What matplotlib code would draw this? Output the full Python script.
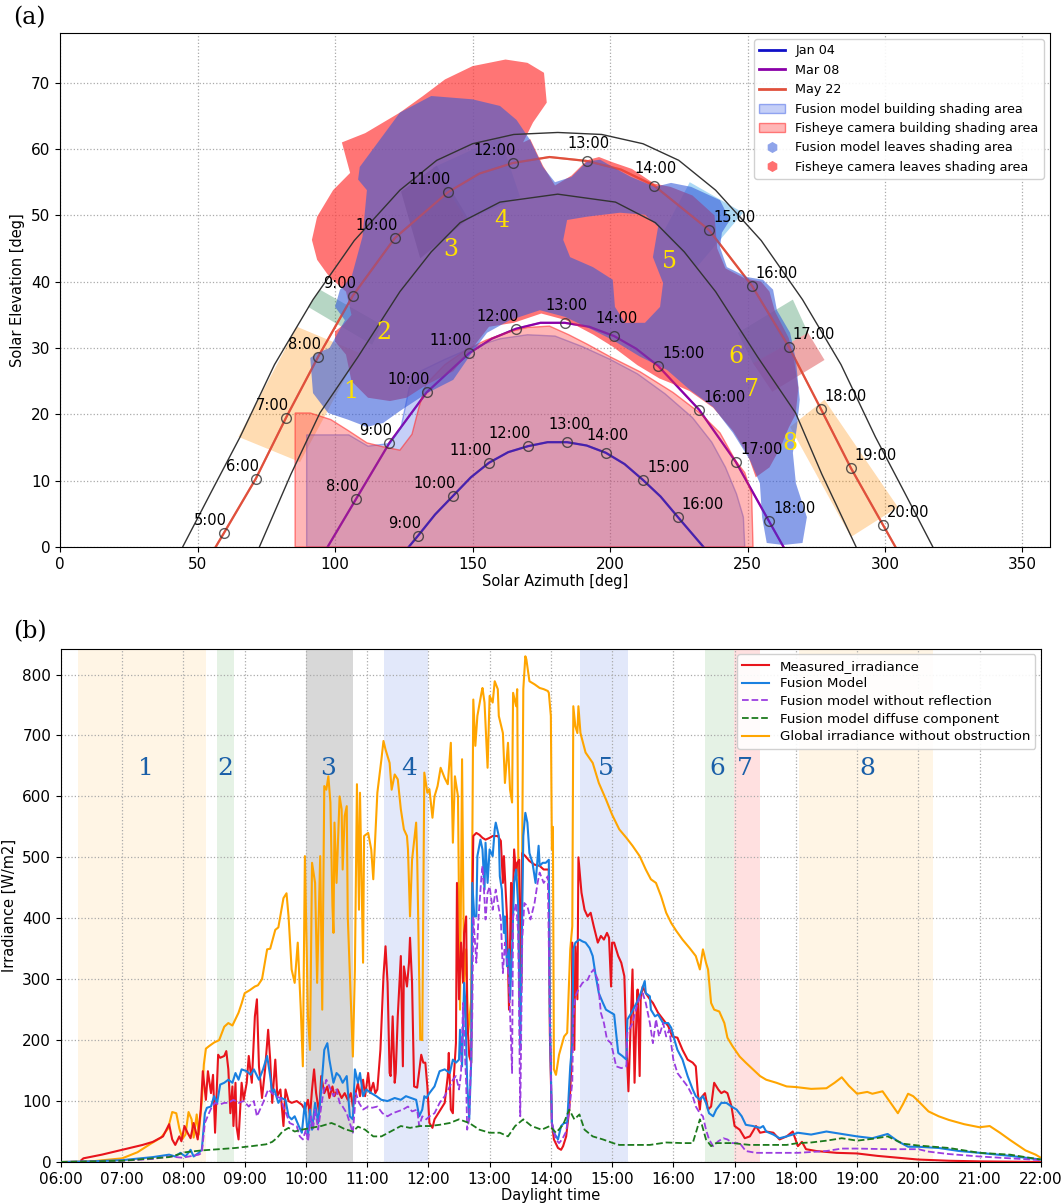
import matplotlib
matplotlib.use("Agg")
import matplotlib.pyplot as plt
from matplotlib.patches import Polygon, PathPatch, Patch
from matplotlib.path import Path
from matplotlib.lines import Line2D

# ---------------- panel (a): sun paths ----------------
jan_hours = [9, 10, 11, 12, 13, 14, 15, 16]
jan_az = [130.2, 142.9, 156.0, 170.2, 184.4, 198.5, 212.0, 224.7]
jan_el = [1.7, 7.7, 12.7, 15.2, 15.8, 14.2, 10.1, 4.5]
jan_path_az = [126.8, 130.2, 136.4, 142.9, 149.4, 156.0, 163.0, 170.2, 177.3, 184.4, 191.5, 198.5, 205.3, 212.0, 218.4, 224.7, 234.0]
jan_path_el = [0.0, 1.7, 4.9, 7.7, 10.5, 12.7, 14.3, 15.2, 15.8, 15.8, 15.3, 14.2, 12.5, 10.1, 7.6, 4.5, 0.0]

mar_hours = [8, 9, 10, 11, 12, 13, 14, 15, 16, 17, 18]
mar_az = [107.6, 119.8, 133.3, 148.7, 165.8, 183.6, 201.5, 217.5, 232.4, 245.8, 257.8]
mar_el = [7.2, 15.7, 23.3, 29.2, 32.9, 33.8, 31.8, 27.3, 20.7, 12.8, 3.9]
mar_path_az = [97.3, 107.6, 119.8, 133.3, 148.7, 157.0, 165.8, 174.7, 183.6, 192.5, 201.5, 209.5, 217.5, 232.4, 245.8, 257.8, 263.1]
mar_path_el = [0.0, 7.2, 15.7, 23.3, 29.2, 31.4, 32.9, 33.8, 33.8, 33.2, 31.8, 29.9, 27.3, 20.7, 12.8, 3.9, 0.0]

may_hours = [5, 6, 7, 8, 9, 10, 11, 12, 13, 14, 15, 16, 17, 18, 19, 20]
may_az = [59.6, 71.2, 82.2, 93.9, 106.5, 121.8, 141.1, 164.7, 191.6, 216.0, 236.0, 251.6, 265.0, 276.7, 287.6, 299.3]
may_el = [2.1, 10.3, 19.5, 28.7, 37.9, 46.6, 53.5, 57.9, 58.2, 54.5, 47.8, 39.4, 30.2, 20.8, 11.9, 3.3]
may_path_az = [56.6, 59.6, 71.2, 82.2, 93.9, 106.5, 121.8, 141.1, 152.5, 164.7, 178.0, 191.6, 204.0, 216.0, 236.0, 251.6, 265.0, 276.7, 287.6, 299.3, 303.8]
may_path_el = [0.0, 2.1, 10.3, 19.5, 28.7, 37.9, 46.6, 53.5, 56.3, 57.9, 58.8, 58.2, 56.9, 54.5, 47.8, 39.4, 30.2, 20.8, 11.9, 3.3, 0.0]

# boundary arcs of the evaluated sky band
outer_az = [44.6, 55, 65.5, 78, 92, 107, 123.6, 137, 150, 165, 181, 197, 212, 225, 238.4, 255, 270, 284, 296.5, 307, 317.4]
outer_el = [0, 8.3, 16.6, 27.5, 37.3, 46.2, 53.8, 58.3, 60.8, 62.2, 62.5, 62.2, 60.8, 58.3, 53.8, 46.2, 37.3, 27.5, 16.6, 8.3, 0]
inner_az = [72.5, 84, 94.5, 108.4, 123.6, 135, 145.5, 160, 181, 202, 216.5, 227, 238.4, 253.6, 267.5, 277, 289.5]
inner_el = [0, 11, 20.2, 28.7, 38.5, 44.5, 48.9, 52, 53.2, 52, 48.9, 44.5, 38.5, 28.7, 20.2, 11, 0]

# shading areas (azimuth, elevation)
fisheye_building = [(85.5, 0), (85.5, 20.2), (91, 20.2), (98.5, 19.2), (105, 17.5), (111.6, 15.7), (117.5, 15.1),
                    (123.6, 14.6), (128, 17), (130.5, 21), (133, 24.5), (140, 27.5), (148, 29.8), (155, 31.2),
                    (163, 32.4), (170, 33.1), (178, 33.3), (185, 32.0), (191.6, 30.6), (200.4, 28.6), (211, 26.4),
                    (222.9, 23.3), (232.7, 20.2), (240, 17.2), (245.5, 13.1), (249, 11.2), (251.5, 8), (252, 0)]
fusion_building = [(89.7, 0), (89.7, 16.9), (105, 16.9), (112, 15.2), (120, 15.6), (124, 18), (127, 24), (131, 26.5),
                   (140, 28.3), (150, 30.1), (160, 31.4), (170, 32.0), (180, 31.8), (190, 30.2), (200, 28.3),
                   (210, 26.1), (220, 23.1), (230, 19.5), (237, 15.8), (242, 12), (246, 8), (248.5, 4.5), (249, 0)]
fusion_leaves = [(91, 28.5), (92, 23.2), (97.5, 20.2), (104.7, 19.2), (111.6, 18.1), (117.5, 18.7), (123.6, 20.5),
                 (133.5, 23.2), (143, 25.2), (149.8, 29.3), (155.3, 32.3), (163.6, 34.2), (174.5, 35.7), (183.6, 34.7),
                 (193.8, 32.7), (201, 31.2), (210.9, 28.7), (220.7, 26.7), (229, 23.7), (237.5, 21.1), (244.7, 17.2),
                 (250.9, 13.1), (254.5, 9.6), (255.3, 4.5), (257, 0.6), (263, 0.3), (270, 0.6), (271.6, 4.5),
                 (267.6, 9.6), (266.5, 14.2), (268, 18.1), (269, 22.2), (267.6, 28.2), (265.5, 32.3), (260.7, 35.7),
                 (259.3, 38.8), (255.6, 40.3), (249.8, 40.7), (242.5, 42.2), (240, 45.2), (240.7, 47.4), (243.6, 49.3),
                 (240, 52.3), (229.5, 54.3), (222.2, 54.9), (216.4, 54.3), (207.6, 55.8), (201, 57.3), (196.4, 58.4),
                 (191.6, 58.1), (186, 55.8), (180, 55), (175.6, 57.3), (170.9, 61.4), (166, 64.4), (160, 66.5),
                 (150, 67.5), (135, 68), (123.6, 65.5), (109, 57.3), (108.4, 55.4), (111.6, 53.8), (110, 46.8),
                 (106, 40.7), (101.8, 38.8), (100, 36.2), (103.6, 34.2), (98, 30), (93.8, 29.3)]
fusion_leaves_gap = [(184.4, 49.3), (191.6, 49.8), (203.6, 50.4), (212.7, 50.1), (217.5, 48.3), (215.6, 43.7),
                     (219.3, 39.8), (218.2, 36.2), (212.7, 33.8), (205.5, 33.8), (201.8, 36.2), (201, 40.3),
                     (193.8, 42.2), (185.5, 43.7), (183, 46.3)]
fisheye_leaves = [(100, 31), (104, 29), (106, 25), (112, 22.5), (120, 22), (126, 22.5), (133.5, 24.5), (143, 26.5),
                  (150, 30), (156, 33.2), (165, 33.8), (175, 35.2), (184, 34.2), (194, 32), (201, 30.2), (210, 27.4),
                  (218, 25.4), (224, 24.4), (229, 23.5), (237.5, 21), (244.7, 17.5), (250, 14), (253, 10.5),
                  (258, 12), (262, 15), (265, 18), (267.5, 20), (268.5, 24), (267, 28), (265, 31.5), (260, 35.5),
                  (258, 38.5), (255, 40), (249, 40.5), (242, 42), (239, 45), (238, 50), (230, 53), (222, 54.3),
                  (216, 54.8), (208, 57), (201, 58), (196, 58.8), (191.6, 58.3), (186, 56), (180, 54.5),
                  (175.6, 57.5), (171, 61.5), (168.4, 61), (172, 64), (177, 67), (176, 71.5), (170, 73),
                  (162, 73.5), (150, 72.5), (140, 70.5), (132, 68), (123.6, 65.5), (111, 62.4), (102.5, 61),
                  (105.5, 56.4), (99.3, 53.8), (93.5, 49.8), (91.6, 46.3), (93.5, 43.3), (98, 40.7), (104, 38.5),
                  (106, 35), (103, 33.5), (100, 32.5)]

# numbered sky sections (corner points) and their labels
sections_a = [
    ([(64.9, 16.6), (86.2, 33.2), (108.7, 29.3), (87.3, 12.8)], "darkorange", 0.3),
    ([(90.2, 36.2), (94.5, 38.8), (117.0, 33.5), (113.5, 30.5)], "seagreen", 0.35),
    ([(124.0, 53.6), (137.0, 57.5), (148.5, 49.5), (131.0, 43.5)], "black", 0.4),
    ([(135.6, 57.2), (160.0, 61.8), (167.3, 52.8), (148.0, 49.3)], "#5ab4ec", 0.5),
    ([(229.0, 55.0), (248.4, 50.4), (231.6, 42.2), (219.3, 47.4)], "#5ab4ec", 0.5),
    ([(266.5, 37.3), (272.0, 32.3), (252.0, 27.7), (246.5, 32.3)], "seagreen", 0.35),
    ([(272.0, 32.3), (278.0, 28.2), (259.0, 23.4), (252.0, 27.7)], "tab:red", 0.4),
    ([(278.0, 22.2), (304.7, 6.0), (287.6, 1.5), (265.5, 18.1)], "darkorange", 0.3),
]
labels_a_az = [105.8, 117.8, 142.2, 160.7, 221.8, 245.8, 251.6, 265.5]
labels_a_el = [23.4, 32.3, 44.8, 49.3, 43.0, 28.7, 23.7, 15.6]

# ---------------- panel (b): irradiance ----------------
global_irr = [("06:00",0),("06:30",1),("07:00",6),("07:15",16),("07:28",30),("07:38",40),("07:45",55),("07:49",82),("07:53",80),("07:56",55),("07:59",38),("08:02",45),("08:05",82),("08:08",70),("08:10",40),("08:13",78),("08:15",45),("08:18",100),("08:20",160),("08:22",186),("08:25",190),("08:30",196),("08:35",200),("08:40",222),("08:44",228),("08:48",224),("08:52",238),("08:54",245),("08:57",260),("09:00",277),("09:05",282),("09:10",288),("09:13",290),("09:17",300),("09:20",330),("09:22",349),("09:25",350),("09:30",381),("09:33",385),("09:38",433),("09:41",441),("09:43",403),("09:46",316),("09:49",294),("09:52",360),("09:55",250),("09:57",157),("09:59",502),("10:02",239),("10:04",184),("10:06",491),("10:09",458),("10:11",294),("10:14",502),("10:16",250),("10:18",617),("10:20",611),("10:22",633),("10:24",590),("10:26",420),("10:27",376),("10:28",557),("10:30",458),("10:33",600),("10:35",579),("10:36",480),("10:38",568),("10:40",584),("10:41",403),("10:44",267),("10:46",173),("10:48",316),("10:50",620),("10:52",414),("10:53",606),("10:56",327),("10:57",535),("11:01",540),("11:04",513),("11:06",464),("11:08",535),("11:10",606),("11:14",661),("11:16",691),("11:18",677),("11:22",655),("11:24",611),("11:27",636),("11:30",628),("11:33",579),("11:36",546),("11:39",535),("11:40",513),("11:42",403),("11:44",496),("11:48",557),("11:49",502),("11:52",201),("11:54",200),("11:56",639),("11:59",606),("12:01",612),("12:04",565),("12:06",600),("12:09",617),("12:12",647),("12:16",630),("12:19",620),("12:22",688),("12:24",524),("12:26",633),("12:29",600),("12:31",250),("12:33",661),("12:35",294),("12:37",349),("12:39",212),("12:42",267),("12:44",759),("12:46",683),("12:48",732),("12:52",770),("12:53",778),("12:55",754),("12:58",647),("13:00",765),("13:03",754),("13:05",789),("13:08",776),("13:09",732),("13:13",704),("13:15",622),("13:18",688),("13:20",611),("13:22",590),("13:23",770),("13:26",748),("13:27",776),("13:29",267),("13:31",294),("13:33",776),("13:35",830),("13:36",825),("13:39",789),("13:44",784),("13:49",778),("13:53",776),("13:57",773),("13:58",770),("14:00",732),("14:01",513),("14:02",550),("14:03",152),("14:05",143),("14:08",176),("14:13",206),("14:16",212),("14:19",349),("14:21",387),("14:22",748),("14:24",715),("14:26",704),("14:27",748),("14:29",704),("14:34",672),("14:41",655),("14:47",622),("14:54",595),("15:00",570),("15:07",546),("15:14",532),("15:20",519),("15:27",502),("15:33",480),("15:38",464),("15:43",458),("15:48",436),("15:53",409),("15:58",392),("16:03",379),("16:09",365),("16:16",351),("16:22",338),("16:26",316),("16:29",349),("16:32",327),("16:34",316),("16:37",261),("16:40",250),("16:45",247),("16:50",228),("16:53",204),("16:58",190),("17:05",173),("17:11",163),("17:18",152),("17:25",141),("17:31",135),("17:41",130),("17:51",124),("18:00",123),("18:15",120),("18:30",121),("18:38",130),("18:45",139),("18:52",125),("19:00",112),("19:10",115),("19:15",112),("19:25",116),("19:30",104),("19:40",80),("19:45",95),("19:50",112),("19:55",108),("20:00",100),("20:10",83),("20:20",75),("20:30",69),("20:45",62),("21:00",57),("21:10",59),("21:20",48),("21:30",36),("21:45",19),("21:55",12),("22:00",7)]

measured = [("06:20",3),("06:22",6),("06:40",12),("07:00",20),("07:10",24),("07:20",28),("07:30",33),("07:40",42),("07:46",62),("07:49",37),("07:52",28),("07:56",42),("07:58",34),("08:01",59),("08:04",48),("08:07",39),("08:10",64),("08:14",37),("08:17",86),("08:19",149),("08:22",102),("08:24",149),("08:27",113),("08:29",143),("08:31",48),("08:34",176),("08:36",171),("08:40",174),("08:42",182),("08:44",152),("08:46",80),("08:48",124),("08:49",59),("08:51",130),("08:52",59),("08:54",37),("08:57",130),("08:59",102),("09:02",130),("09:04",174),("09:07",130),("09:10",239),("09:12",267),("09:14",157),("09:17",105),("09:20",152),("09:23",217),("09:25",168),("09:27",97),("09:30",168),("09:32",108),("09:35",119),("09:38",59),("09:40",119),("09:43",100),("09:46",97),("09:51",100),("09:56",94),("09:59",86),("10:02",102),("10:04",75),("10:06",119),("10:08",152),("10:10",113),("10:13",80),("10:15",141),("10:18",113),("10:21",124),("10:23",105),("10:26",124),("10:28",108),("10:31",119),("10:35",105),("10:38",113),("10:41",102),("10:44",113),("10:46",91),("10:48",108),("10:51",130),("10:53",108),("10:56",135),("10:58",108),("11:01",146),("11:03",113),("11:06",130),("11:08",113),("11:10",119),("11:13",184),("11:15",267),("11:16",305),("11:18",354),("11:20",294),("11:22",146),("11:23",141),("11:25",239),("11:27",130),("11:28",146),("11:30",239),("11:33",338),("11:35",157),("11:36",321),("11:39",288),("11:41",327),("11:42",368),("11:44",294),("11:46",124),("11:49",122),("11:53",176),("11:55",163),("11:57",163),("11:59",124),("12:01",64),("12:04",56),("12:06",70),("12:09",78),("12:12",86),("12:16",97),("12:19",141),("12:20",179),("12:22",86),("12:24",80),("12:25",141),("12:27",195),("12:28",458),("12:30",267),("12:32",360),("12:34",294),("12:35",376),("12:37",403),("12:38",239),("12:40",174),("12:42",163),("12:43",403),("12:44",535),("12:47",540),("12:50",537),("12:53",532),("12:56",529),("13:00",532),("13:03",535),("13:08",535),("13:11",527),("13:13",458),("13:14",502),("13:17",403),("13:19",250),("13:21",458),("13:22",365),("13:24",513),("13:26",469),("13:27",491),("13:29",496),("13:31",283),("13:32",507),("13:35",502),("13:39",494),("13:44",488),("13:49",486),("13:53",480),("13:58",480),("13:59",212),("14:01",64),("14:03",37),("14:07",23),("14:10",20),("14:12",26),("14:15",42),("14:18",86),("14:20",152),("14:21",360),("14:23",184),("14:24",354),("14:26",267),("14:27",500),("14:30",442),("14:33",414),("14:36",403),("14:39",409),("14:42",387),("14:46",360),("14:49",371),("14:52",365),("14:55",376),("14:57",368),("14:59",288),("15:00",360),("15:02",360),("15:06",338),("15:09",327),("15:12",305),("15:14",195),("15:16",116),("15:19",267),("15:20",316),("15:22",130),("15:24",250),("15:25",283),("15:27",141),("15:28",267),("15:30",288),("15:33",277),("15:37",267),("15:40",261),("15:45",245),("15:50",234),("15:55",223),("15:59",206),("16:04",204),("16:09",184),("16:14",168),("16:19",163),("16:22",157),("16:24",113),("16:26",86),("16:27",105),("16:31",113),("16:34",86),("16:37",91),("16:40",130),("16:44",119),("16:47",113),("16:50",116),("16:53",113),("16:57",91),("17:00",59),("17:05",53),("17:10",39),("17:15",42),("17:21",59),("17:25",48),("17:31",50),("17:38",48),("17:44",37),("17:51",42),("17:57",50),("18:02",26),("18:06",33),("18:10",21),("18:20",18),("18:40",15),("19:00",14),("19:20",10),("19:40",7),("20:00",4),("20:30",2),("21:00",1),("22:00",0)]

fusion = [("06:00",0),("06:30",1),("07:00",3),("07:30",8),("07:46",12),("07:52",9),("07:57",15),("08:02",9),("08:07",20),("08:10",9),("08:15",15),("08:18",20),("08:21",80),("08:23",89),("08:27",91),("08:30",108),("08:33",97),("08:36",127),("08:40",130),("08:44",135),("08:48",130),("08:51",146),("08:54",135),("08:57",152),("09:02",149),("09:06",143),("09:09",152),("09:14",135),("09:18",152),("09:22",174),("09:25",141),("09:27",113),("09:29",119),("09:33",97),("09:36",105),("09:40",102),("09:43",75),("09:46",70),("09:49",75),("09:53",59),("09:56",48),("09:59",97),("10:02",42),("10:04",86),("10:06",53),("10:09",97),("10:12",64),("10:15",119),("10:18",184),("10:21",195),("10:23",168),("10:27",130),("10:30",146),("10:33",141),("10:36",130),("10:40",141),("10:43",75),("10:46",70),("10:48",152),("10:51",130),("10:53",146),("10:56",108),("10:59",119),("11:04",113),("11:09",108),("11:14",102),("11:20",100),("11:27",105),("11:33",102),("11:38",108),("11:43",105),("11:48",102),("11:51",75),("11:54",86),("11:56",108),("11:58",105),("12:01",113),("12:06",124),("12:11",149),("12:16",152),("12:21",146),("12:24",168),("12:27",163),("12:30",168),("12:31",217),("12:33",157),("12:35",294),("12:36",267),("12:38",130),("12:40",70),("12:42",168),("12:43",458),("12:45",403),("12:47",403),("12:48",502),("12:51",529),("12:53",513),("12:55",447),("12:56",524),("12:58",458),("13:00",513),("13:03",502),("13:05",546),("13:06",557),("13:09",535),("13:10",469),("13:12",447),("13:14",376),("13:15",403),("13:17",321),("13:19",349),("13:20",267),("13:22",349),("13:24",458),("13:26",480),("13:28",420),("13:30",184),("13:32",425),("13:33",535),("13:35",573),("13:37",557),("13:39",507),("13:42",491),("13:45",458),("13:48",519),("13:49",486),("13:52",491),("13:55",491),("13:58",496),("13:59",239),("14:01",64),("14:03",48),("14:07",37),("14:10",59),("14:13",64),("14:16",64),("14:19",157),("14:21",195),("14:22",349),("14:24",360),("14:28",365),("14:31",362),("14:34",360),("14:38",351),("14:41",338),("14:44",305),("14:47",277),("14:51",261),("14:54",250),("14:59",245),("15:02",242),("15:06",179),("15:10",174),("15:14",168),("15:15",234),("15:19",245),("15:24",261),("15:28",277),("15:32",297),("15:33",277),("15:37",272),("15:38",250),("15:42",239),("15:45",242),("15:50",228),("15:55",228),("15:58",220),("16:01",201),("16:04",184),("16:09",168),("16:14",141),("16:19",119),("16:22",108),("16:26",102),("16:29",108),("16:32",97),("16:35",80),("16:39",75),("16:42",86),("16:47",97),("16:52",97),("16:57",91),("17:02",86),("17:07",75),("17:11",61),("17:18",59),("17:25",56),("17:28",59),("17:31",50),("17:38",45),("17:44",39),("17:51",42),("17:57",45),("18:02",48),("18:15",45),("18:30",50),("18:45",46),("19:00",42),("19:15",39),("19:30",46),("19:40",34),("19:50",25),("20:00",25),("20:20",23),("20:40",18),("21:00",15),("21:30",10),("22:00",4)]

no_reflection = [("06:00",0),("07:00",2),("07:30",5),("07:46",9),("07:59",7),("08:15",12),("08:18",15),("08:21",64),("08:25",80),("08:28",91),("08:31",97),("08:35",94),("08:40",97),("08:44",97),("08:49",102),("08:54",97),("08:59",100),("09:04",91),("09:09",100),("09:12",75),("09:15",86),("09:18",97),("09:23",119),("09:27",113),("09:30",108),("09:35",105),("09:38",91),("09:41",78),("09:44",64),("09:48",61),("09:51",59),("09:54",42),("09:57",37),("10:00",53),("10:02",34),("10:05",75),("10:07",53),("10:09",86),("10:12",53),("10:15",91),("10:17",113),("10:20",135),("10:23",124),("10:27",108),("10:30",119),("10:33",97),("10:36",91),("10:40",80),("10:43",64),("10:46",48),("10:49",113),("10:52",97),("10:56",86),("11:01",91),("11:05",89),("11:10",91),("11:15",80),("11:20",75),("11:25",80),("11:30",83),("11:35",86),("11:40",91),("11:44",83),("11:49",86),("11:51",59),("11:54",75),("11:58",70),("12:01",75),("12:06",80),("12:11",97),("12:16",108),("12:21",124),("12:24",135),("12:27",141),("12:30",119),("12:32",146),("12:34",261),("12:35",212),("12:37",130),("12:38",53),("12:40",70),("12:43",239),("12:44",403),("12:47",327),("12:49",398),("12:52",469),("12:53",486),("12:55",431),("12:56",398),("12:58",442),("13:00",452),("13:03",414),("13:06",447),("13:08",425),("13:11",398),("13:13",310),("13:15",360),("13:18",316),("13:19",294),("13:22",146),("13:23",403),("13:26",425),("13:28",376),("13:30",75),("13:32",365),("13:34",425),("13:37",420),("13:40",398),("13:44",425),("13:47",458),("13:49",475),("13:53",458),("13:57",469),("13:59",239),("14:01",64),("14:05",37),("14:08",31),("14:11",37),("14:15",50),("14:18",86),("14:21",130),("14:22",239),("14:24",272),("14:27",283),("14:31",294),("14:36",299),("14:39",310),("14:42",316),("14:46",299),("14:49",245),("14:52",228),("14:55",201),("14:59",195),("15:04",157),("15:09",154),("15:14",157),("15:15",212),("15:20",228),("15:25",261),("15:30",277),("15:33",261),("15:37",228),("15:40",195),("15:43",234),("15:46",206),("15:50",228),("15:53",206),("15:56",217),("16:00",168),("16:04",146),("16:09",135),("16:14",124),("16:19",108),("16:22",91),("16:26",80),("16:29",75),("16:32",53),("16:35",37),("16:39",26),("16:44",34),("16:49",39),("16:53",37),("16:58",31),("17:05",31),("17:11",18),("17:21",15),("17:38",15),("18:02",15),("18:30",18),("18:45",22),("19:00",22),("19:30",21),("20:00",21),("20:10",17),("20:30",13),("21:00",9),("21:30",6),("22:00",3)]

diffuse = [("06:00",0),("07:00",2),("07:30",6),("07:46",8),("08:02",16),("08:18",19),("08:35",21),("08:51",23),("09:07",26),("09:21",29),("09:27",33),("09:32",40),("09:37",50),("09:43",56),("09:49",50),("09:56",53),("10:05",56),("10:15",59),("10:25",64),("10:31",60),("10:38",54),("10:46",50),("10:51",58),("10:58",53),("11:06",42),("11:14",42),("11:23",50),("11:33",59),("11:42",56),("11:52",59),("12:01",59),("12:11",61),("12:21",64),("12:30",70),("12:40",64),("12:50",53),("13:00",48),("13:10",48),("13:18",42),("13:25",59),("13:33",70),("13:41",59),("13:51",53),("13:59",59),("14:05",48),("14:12",61),("14:18",86),("14:23",70),("14:28",78),("14:33",53),("14:41",42),("14:51",37),("15:01",31),("15:07",28),("15:14",28),("15:37",28),("15:53",32),("16:09",31),("16:19",31),("16:23",53),("16:26",70),("16:28",61),("16:32",37),("16:37",26),("16:42",31),("16:58",31),("17:15",28),("17:31",28),("17:51",28),("18:02",31),("18:15",32),("18:30",35),("18:45",39),("19:00",35),("19:15",38),("19:30",42),("19:45",30),("20:00",27),("20:30",23),("21:00",15),("21:30",12),("22:00",4)]

sections_b = [("06:17", "08:22", "orange", 0.1), ("08:33", "08:50", "green", 0.1), ("10:00", "10:46", "gray", 0.3),
              ("11:17", "12:00", "royalblue", 0.15), ("14:29", "15:16", "royalblue", 0.15),
              ("16:31", "16:59", "green", 0.1), ("16:59", "17:25", "red", 0.12), ("18:03", "20:14", "orange", 0.1)]
labels_b_time = ["07:23", "08:41", "10:22", "11:41", "14:54", "16:43", "17:10", "19:10"]


def hrs(t):
    return int(t[:2]) + int(t[3:]) / 60


def series(data):
    data = sorted(data, key=lambda p: hrs(p[0]))
    return [hrs(t) for t, v in data], [v for t, v in data]


fig = plt.figure(figsize=(10.62, 12.04), dpi=100)
ax1 = fig.add_axes([0.0565, 0.5457, 0.9322, 0.4269])
ax2 = fig.add_axes([0.0574, 0.0349, 0.9226, 0.4261])

fig.text(0.012, 0.985, "(a)", fontsize=17, family="DejaVu Serif", va="center")
fig.text(0.012, 0.475, "(b)", fontsize=17, family="DejaVu Serif", va="center")

# ---- (a)
for corners, col, alpha in sections_a:
    ax1.add_patch(Polygon(corners, closed=True, facecolor=col, alpha=alpha, lw=0, zorder=1))

paths = [(jan_path_az, jan_path_el, "#1010c8"), (mar_path_az, mar_path_el, "#8a00a8"),
         (may_path_az, may_path_el, "#e0503c")]
for az, el, col in paths:
    ax1.plot(az, el, color=col, lw=1.6, zorder=2)

ax1.add_patch(Polygon(fusion_building, closed=True, facecolor=(0.25, 0.38, 0.9, 0.3),
                      edgecolor=(0.25, 0.38, 0.9, 0.5), lw=1, zorder=3))
ax1.add_patch(Polygon(fisheye_building, closed=True, facecolor=(1, 0.25, 0.25, 0.38),
                      edgecolor=(1, 0.2, 0.2, 0.6), lw=1, zorder=3))

ax1.add_patch(Polygon(fisheye_leaves, closed=True, facecolor=(1, 0.25, 0.25, 0.72), lw=0, zorder=4))


def area(pts):
    return sum(pts[i][0] * pts[i - 1][1] - pts[i - 1][0] * pts[i][1] for i in range(len(pts)))


gap = fusion_leaves_gap if area(fusion_leaves_gap) * area(fusion_leaves) < 0 else fusion_leaves_gap[::-1]
verts = fusion_leaves + [fusion_leaves[0]] + gap + [gap[0]]
codes = ([Path.MOVETO] + [Path.LINETO] * (len(fusion_leaves) - 1) + [Path.CLOSEPOLY]
         + [Path.MOVETO] + [Path.LINETO] * (len(gap) - 1) + [Path.CLOSEPOLY])
ax1.add_patch(PathPatch(Path(verts, codes), facecolor=(0.2, 0.35, 0.85, 0.58), lw=0, zorder=4))

# sun paths seen through the shading areas
for az, el, col in paths:
    ax1.plot(az, el, color=col, lw=1.5, alpha=0.45, zorder=4.5)

ax1.plot(outer_az, outer_el, color="#333333", lw=1, zorder=5)
ax1.plot(inner_az, inner_el, color="#333333", lw=1, zorder=5)

for hours, az, el in [(jan_hours, jan_az, jan_el), (mar_hours, mar_az, mar_el), (may_hours, may_az, may_el)]:
    ax1.plot(az, el, "o", mfc="none", mec="#333333", ms=7, mew=1, alpha=0.8, zorder=6)
    for h, x, y in zip(hours, az, el):
        if h <= 12:
            ha, off = "right", (3, 5)
        elif h <= 14:
            ha, off = "center", (2, 10)
        else:
            ha, off = "left", (4, 5)
        ax1.annotate(f"{h}:00", (x, y), xytext=off, textcoords="offset pixels", ha=ha, va="bottom",
                     fontsize=10.5, zorder=7)

for i, (x, y) in enumerate(zip(labels_a_az, labels_a_el)):
    ax1.text(x, y, str(i + 1), color="#ffe100", fontsize=17, family="DejaVu Serif",
             ha="center", va="center", zorder=8)

ax1.set_xlim(0, 360)
ax1.set_ylim(0, 77.5)
ax1.set_xticks(range(0, 360, 50))
ax1.set_yticks(range(0, 80, 10))
ax1.grid(True, ls=":", color="#aaaaaa", lw=0.9)
ax1.set_axisbelow(True)
ax1.tick_params(labelsize=11)
ax1.set_xlabel("Solar Azimuth [deg]", fontsize=10.5, labelpad=2)
ax1.set_ylabel("Solar Elevation [deg]", fontsize=10.5)

handles_a = [
    Line2D([], [], color="#1010c8", lw=2),
    Line2D([], [], color="#8a00a8", lw=2),
    Line2D([], [], color="#e0503c", lw=2),
    Patch(facecolor=(0.25, 0.38, 0.9, 0.3), edgecolor=(0.25, 0.38, 0.9, 0.5)),
    Patch(facecolor=(1, 0.25, 0.25, 0.38), edgecolor=(1, 0.2, 0.2, 0.6)),
    Line2D([], [], ls="none", marker="h", ms=8, mfc=(0.2, 0.35, 0.85, 0.55), mec="none"),
    Line2D([], [], ls="none", marker="h", ms=8, mfc=(1, 0.25, 0.25, 0.75), mec="none"),
]
labels_a = ["Jan 04", "Mar 08", "May 22", "Fusion model building shading area",
            "Fisheye camera building shading area", "Fusion model leaves shading area",
            "Fisheye camera leaves shading area"]
ax1.legend(handles_a, labels_a, loc="upper right", fontsize=9.2, framealpha=0.9)

# ---- (b)
for start, end, col, alpha in sections_b:
    ax2.axvspan(hrs(start), hrs(end), color=col, alpha=alpha, lw=0, zorder=0)
for i, t in enumerate(labels_b_time):
    ax2.text(hrs(t), 646, str(i + 1), color="#1a5fa8", fontsize=18, family="DejaVu Serif",
             ha="center", va="center", zorder=1)

x, y = series(measured)
ax2.plot(x, y, color="#e8141c", lw=1.5, label="Measured_irradiance", zorder=3)
x, y = series(fusion)
ax2.plot(x, y, color="#1a80e0", lw=1.5, label="Fusion Model", zorder=3)
x, y = series(no_reflection)
ax2.plot(x, y, color="#9b3ee0", lw=1.3, ls="--", label="Fusion model without reflection", zorder=3)
x, y = series(diffuse)
ax2.plot(x, y, color="#1d7a1d", lw=1.3, ls="--", label="Fusion model diffuse component", zorder=3)
x, y = series(global_irr)
ax2.plot(x, y, color="orange", lw=1.5, label="Global irradiance without obstruction", zorder=2)

ax2.set_xlim(6, 22)
ax2.set_ylim(0, 842)
ax2.set_xticks(range(6, 23))
ax2.set_xticklabels([f"{h:02d}:00" for h in range(6, 23)])
ax2.set_yticks(range(0, 900, 100))
ax2.grid(True, ls=":", color="#aaaaaa", lw=0.9)
ax2.set_axisbelow(True)
ax2.tick_params(labelsize=11)
ax2.set_xlabel("Daylight time", fontsize=10.5, labelpad=1)
ax2.set_ylabel("Irradiance [W/m2]", fontsize=10.5)
ax2.legend(loc="upper right", fontsize=9.6, labelspacing=0.35, borderaxespad=0.4, framealpha=0.9)

fig.savefig("out.png", dpi=100)
